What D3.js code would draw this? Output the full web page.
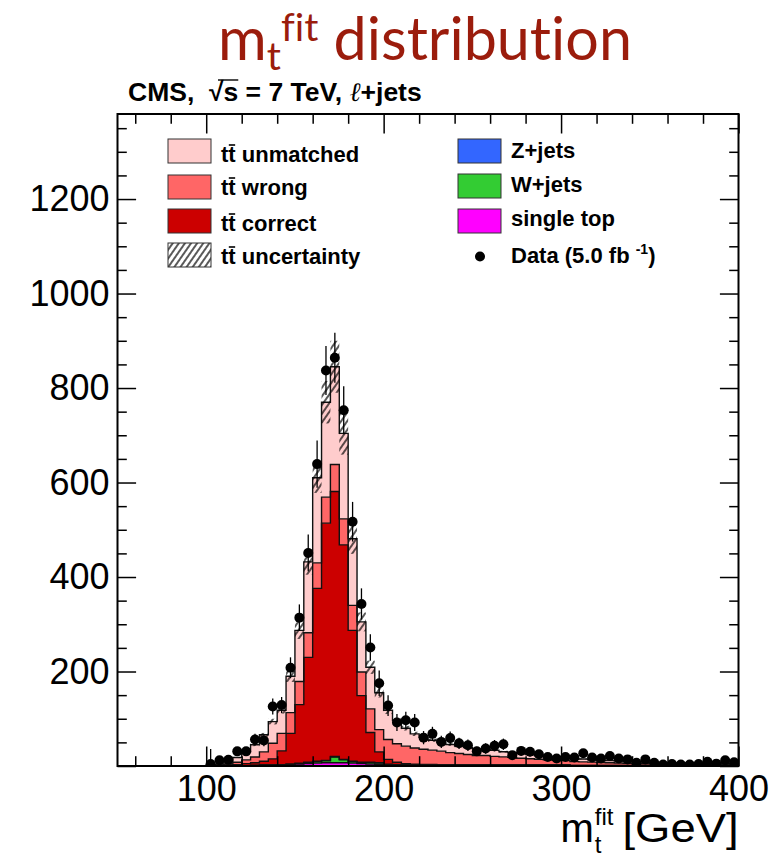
<!DOCTYPE html>
<html>
<head>
<meta charset="utf-8">
<script src="https://cdn.jsdelivr.net/npm/d3@7"></script>
<style>
  body { margin: 0; background: #fff; }
  svg { display: block; }
  text { font-family: "Liberation Sans", Arial, Helvetica, sans-serif; font-variant-ligatures: none; }
</style>
</head>
<body>
<svg id="chart" width="780" height="859"></svg>
<script>
// ---- binning (5 GeV bins from 100 to 400 GeV) ----
const binWidth = 5;
const binLow = d3.range(100, 400, binWidth);

// ---- observed events per bin ----
const dataCounts = [
  4, 12, 13, 31, 31, 56, 54, 126, 129, 208,
  314, 451, 639, 837, 864, 753, 517, 343, 251, 175,
  128, 92, 97, 92, 60, 68, 51, 59, 48, 44,
  31, 37, 43, 46, 23, 32, 30, 25, 19, 16,
  19, 18, 27, 18, 16, 21, 16, 14, 7, 14,
  7, 3, 4, 3, 3, 4, 9, 5, 12, 8
];
const dataErrors = [
  32, 6, 6, 9, 9, 12, 12, 17, 17, 22,
  28, 39, 50, 52, 53, 51, 42, 33, 28, 27,
  22, 18, 18, 18, 14, 15, 13, 14, 12, 12,
  10, 11, 12, 12, 9, 10, 10, 9, 8, 7,
  8, 8, 9, 8, 7, 8, 7, 7, 5, 7,
  5, 3, 4, 3, 3, 4, 6, 4, 6, 5
];

// ---- simulated contributions per bin ----
const singleTop = [
  0, 0, 0, 0, 0, 1, 1, 1, 2, 3,
  4, 5, 6, 7, 7, 7, 6, 5, 4, 3,
  2, 2, 2, 2, 2, 2, 1, 1, 1, 1,
  1, 1, 1, 1, 1, 1, 1, 1, 1, 1,
  1, 0.5, 0.5, 0.5, 0.5, 0.5, 0.5, 0.5, 0.5, 0.5,
  0.5, 0.5, 0.5, 0.5, 0.5, 0.5, 0.5, 0.5, 0.5, 0.5
];
const wJets = [
  0, 0, 0, 0, 0, 0, 1, 1, 1, 1,
  1, 2, 3, 4, 12, 6, 3, 2, 3, 3,
  1, 0.5, 0.5, 0.5, 0.5, 0.5, 0.5, 0.5, 0.5, 0.5,
  0.5, 0.5, 0.5, 0.5, 0.5, 0.5, 0.5, 0.5, 0.5, 0.5,
  0.5, 0.3, 0.3, 0.3, 0.3, 0.3, 0.3, 0.3, 0.3, 0.3,
  0.3, 0.3, 0.3, 0.3, 0.3, 0.3, 0.3, 0.3, 0.3, 0.3
];
const zJets = [
  0, 0, 0, 0, 0, 0, 0, 0, 0, 0,
  1, 1, 1, 1, 1, 1, 1, 1, 1, 1,
  1, 0.5, 0.5, 0.5, 0.5, 0.5, 0.5, 0.5, 0.5, 0.5,
  0.5, 0.5, 0.5, 0.5, 0.5, 0.5, 0.5, 0.5, 0.5, 0.5,
  0.5, 0.2, 0.2, 0.2, 0.2, 0.2, 0.2, 0.2, 0.2, 0.2,
  0.2, 0.2, 0.2, 0.2, 0.2, 0.2, 0.2, 0.2, 0.2, 0.2
];
const ttCorrect = [
  0.5, 1, 2, 3, 5, 6, 8, 13, 29, 65,
  124, 222, 366, 502, 561, 454, 277, 141, 63, 23,
  10, 5, 2, 1, 0.5, 0.5, 0.4, 0.4, 0.3, 0.3,
  0.3, 0.3, 0.3, 0.3, 0.3, 0.3, 0.3, 0.3, 0.3, 0.3,
  0.3, 0.3, 0.3, 0.3, 0.3, 0.3, 0.3, 0.3, 0.3, 0.3,
  0.2, 0.2, 0.2, 0.2, 0.2, 0.2, 0.2, 0.2, 0.2, 0.2
];
const ttWrong = [
  0.5, 1, 2, 5, 8, 12, 20, 33, 37, 44,
  49, 52, 54, 55, 57, 55, 53, 50, 50, 47,
  42, 39, 37, 34, 32, 30, 29, 26, 24, 22,
  20, 20, 18, 17, 16, 14, 13, 12, 11, 10,
  9, 8, 7.5, 7, 6, 5.5, 5, 4.5, 4, 3.5,
  3.2, 3, 2.7, 2.5, 2.2, 2, 2, 1.8, 1.7, 1.5
];
const ttUnmatched = [
  1, 2, 5, 10, 17, 26, 36, 46, 49, 77,
  108, 150, 180, 201, 207, 181, 141, 106, 88, 78,
  62, 49, 38, 30, 25, 21, 18, 17, 16, 15,
  14, 13, 13, 11, 10, 10, 9, 8, 7, 7,
  6, 6, 6, 5, 5, 5, 4, 4, 3.5, 3.5,
  3.5, 3, 3, 2.5, 2.5, 2, 2, 2, 2, 2
];
// absolute tt uncertainty around the stacked total
const ttUncertainty = [
  0.2, 0.3, 0.6, 1.2, 2, 3, 4, 6, 7, 12,
  18, 27, 32, 45, 55, 45, 32, 20, 14, 10,
  8, 6, 5, 4.5, 4, 3.5, 3.2, 3, 2.8, 2.6,
  2.4, 2.2, 2, 1.9, 1.8, 1.6, 1.5, 1.4, 1.3, 1.2,
  1.1, 1, 1, 0.9, 0.8, 0.7, 0.7, 0.6, 0.6, 0.5,
  0.5, 0.5, 0.4, 0.4, 0.4, 0.3, 0.3, 0.3, 0.3, 0.3
];

// ---- axis ticks ----
const xMajorTicks = [100, 200, 300, 400];
const xMinorTicks = [60, 80, 120, 140, 160, 180, 220, 240, 260, 280, 320, 340, 360, 380];
const yMajorTicks = [0, 200, 400, 600, 800, 1000, 1200];
const yMinorTicks = [50, 100, 150, 250, 300, 350, 450, 500, 550, 650, 700, 750,
                     850, 900, 950, 1050, 1100, 1150, 1250, 1300, 1350];

// ---- layout ----
const svg = d3.select("#chart");
const plot = { left: 117.5, right: 738.5, top: 114, bottom: 766 };
const x = d3.scaleLinear().domain([50, 400]).range([plot.left, plot.right]);
const y = d3.scaleLinear().domain([0, 1380]).range([plot.bottom, plot.top]);

const layers = [
  { key: "singleTop",   values: singleTop,   color: "#ff00ff" },
  { key: "wJets",       values: wJets,       color: "#33cc33" },
  { key: "zJets",       values: zJets,       color: "#3366ff" },
  { key: "ttCorrect",   values: ttCorrect,   color: "#cc0000" },
  { key: "ttWrong",     values: ttWrong,     color: "#ff6666" },
  { key: "ttUnmatched", values: ttUnmatched, color: "#ffcccc" }
];

const rows = binLow.map((lo, i) => {
  const r = { lo };
  layers.forEach(l => { r[l.key] = l.values[i]; });
  return r;
});
const stacked = d3.stack().keys(layers.map(l => l.key))(rows);

const defs = svg.append("defs");
defs.append("clipPath").attr("id", "plotClip")
  .append("rect")
  .attr("x", plot.left).attr("y", plot.top)
  .attr("width", plot.right - plot.left).attr("height", plot.bottom - plot.top);

const hatch = defs.append("pattern")
  .attr("id", "hatch")
  .attr("patternUnits", "userSpaceOnUse")
  .attr("width", 5).attr("height", 5)
  .attr("patternTransform", "rotate(35)");
hatch.append("line")
  .attr("x1", 1).attr("y1", 0).attr("x2", 1).attr("y2", 5)
  .attr("stroke", "#000").attr("stroke-width", 1.3);

// step points of a stacked layer
const stepPoints = series => series.flatMap((d, i) => [
  { x: binLow[i], y0: d[0], y1: d[1] },
  { x: binLow[i] + binWidth, y0: d[0], y1: d[1] }
]);

const area = d3.area().x(d => x(d.x)).y0(d => y(d.y0)).y1(d => y(d.y1));
const outline = d3.line().x(d => x(d.x)).y(d => y(d.y1));

const g = svg.append("g").attr("clip-path", "url(#plotClip)");

// filled stacked histograms
stacked.forEach((s, k) => {
  g.append("path")
    .attr("d", area(stepPoints(s)))
    .attr("fill", layers[k].color)
    .attr("stroke", "none");
});
// step outlines on top of every layer
stacked.forEach(s => {
  const pts = stepPoints(s);
  const first = { x: binLow[0], y1: 0 };
  const last = { x: binLow[binLow.length - 1] + binWidth, y1: 0 };
  g.append("path")
    .attr("d", outline([first, ...pts, last]))
    .attr("fill", "none")
    .attr("stroke", "#111")
    .attr("stroke-width", 1.4);
});

// hatched uncertainty band around the total
const stackTop = stacked[stacked.length - 1];
g.selectAll("rect.unc")
  .data(binLow)
  .join("rect")
  .attr("class", "unc")
  .attr("x", d => x(d))
  .attr("width", d => x(d + binWidth) - x(d))
  .attr("y", (d, i) => y(stackTop[i][1] + ttUncertainty[i]))
  .attr("height", (d, i) => y(stackTop[i][1] - ttUncertainty[i]) - y(stackTop[i][1] + ttUncertainty[i]))
  .attr("fill", "url(#hatch)");

// data: error bars and markers
const centers = binLow.map(lo => lo + binWidth / 2);
g.selectAll("line.err")
  .data(dataCounts)
  .join("line")
  .attr("class", "err")
  .attr("x1", (d, i) => x(centers[i])).attr("x2", (d, i) => x(centers[i]))
  .attr("y1", (d, i) => y(d + dataErrors[i]))
  .attr("y2", (d, i) => y(Math.max(0, d - dataErrors[i])))
  .attr("stroke", "#000").attr("stroke-width", 1.3);
g.selectAll("circle.pt")
  .data(dataCounts)
  .join("circle")
  .attr("class", "pt")
  .attr("cx", (d, i) => x(centers[i]))
  .attr("cy", d => y(d))
  .attr("r", 5)
  .attr("fill", "#000");

// ---- axes (ticks drawn inside the frame) ----
const axisFont = 36;
const styleAxis = sel => {
  sel.select(".domain").remove();
  sel.selectAll(".tick line").attr("stroke", "#000").attr("stroke-width", 1.5);
  sel.selectAll(".tick text")
    .attr("font-size", axisFont)
    .attr("font-family", "'Liberation Sans', Arial, sans-serif")
    .attr("fill", "#000");
};

svg.append("g").attr("transform", `translate(${plot.left},0)`)
  .call(d3.axisLeft(y).tickValues(yMajorTicks).tickSize(-18.6).tickPadding(8)
    .tickFormat(d => d === 0 ? "" : d))
  .call(styleAxis);
svg.append("g").attr("transform", `translate(${plot.left},0)`)
  .call(d3.axisLeft(y).tickValues(yMinorTicks).tickSize(-9.3).tickFormat(""))
  .call(styleAxis);
svg.append("g").attr("transform", `translate(${plot.right},0)`)
  .call(d3.axisRight(y).tickValues(yMajorTicks).tickSize(-18.6).tickFormat(""))
  .call(styleAxis);
svg.append("g").attr("transform", `translate(${plot.right},0)`)
  .call(d3.axisRight(y).tickValues(yMinorTicks).tickSize(-9.3).tickFormat(""))
  .call(styleAxis);

svg.append("g").attr("transform", `translate(0,${plot.bottom})`)
  .call(d3.axisBottom(x).tickValues(xMajorTicks).tickSize(-19.5).tickPadding(9))
  .call(styleAxis);
svg.append("g").attr("transform", `translate(0,${plot.bottom})`)
  .call(d3.axisBottom(x).tickValues(xMinorTicks).tickSize(-9.8).tickFormat(""))
  .call(styleAxis);
svg.append("g").attr("transform", `translate(0,${plot.top})`)
  .call(d3.axisTop(x).tickValues(xMajorTicks).tickSize(-19.5).tickFormat(""))
  .call(styleAxis);
svg.append("g").attr("transform", `translate(0,${plot.top})`)
  .call(d3.axisTop(x).tickValues(xMinorTicks).tickSize(-9.8).tickFormat(""))
  .call(styleAxis);

svg.append("rect")
  .attr("x", plot.left).attr("y", plot.top)
  .attr("width", plot.right - plot.left).attr("height", plot.bottom - plot.top)
  .attr("fill", "none").attr("stroke", "#000").attr("stroke-width", 2);

// ---- x axis title: m_t^fit [GeV], right aligned to the frame ----
(function () {
  const base = 842, fs = 40, small = 24, wg = 116, gap = 9;
  // measure the pieces first
  const probe = svg.append("text").attr("font-size", fs).text("m");
  const wm = probe.node().getComputedTextLength();
  probe.attr("font-size", small).text("fit");
  const ws = probe.node().getComputedTextLength();
  probe.remove();
  const x0 = plot.right - (wm + 1 + ws + gap + wg);
  const t = svg.append("text").attr("x", x0).attr("y", base).attr("font-size", fs);
  t.append("tspan").text("m");
  t.append("tspan").attr("x", x0 + wm + 1).attr("dy", -17).attr("font-size", small).text("fit");
  t.append("tspan").attr("x", x0 + wm + 1).attr("dy", 28).attr("font-size", small).text("t");
  t.append("tspan").attr("x", x0 + wm + 1 + ws + gap).attr("dy", -11)
    .attr("textLength", wg).attr("lengthAdjust", "spacingAndGlyphs").text("[GeV]");
})();

// ---- page title ----
(function () {
  const t = svg.append("text")
    .attr("y", 60)
    .attr("fill", "#9b1c0c")
    .style("font-family", "Lato, 'Open Sans', sans-serif")
    .style("font-variant-ligatures", "none")
    .attr("font-size", 54);
  t.append("tspan").text("m");
  t.append("tspan").attr("font-size", 36).attr("dy", 10).text("t");
  t.append("tspan").attr("font-size", 36).attr("dy", -29).text("fit");
  t.append("tspan").attr("dy", 19).text(" distribution");
  const w = t.node().getComputedTextLength();
  const target = 414;
  const s = target / w;
  t.attr("font-size", 54 * s);
  t.selectAll("tspan").each(function (d, i) {
    if (i === 1 || i === 2) d3.select(this).attr("font-size", 36 * s);
  });
  const w2 = t.node().getComputedTextLength();
  t.attr("x", 425 - w2 / 2);
})();

// ---- header label ----
(function () {
  const t = svg.append("text")
    .attr("x", 128).attr("y", 101)
    .attr("font-size", 26.5).attr("font-weight", "bold")
    .style("white-space", "pre");
  t.append("tspan").text("CMS,  \u221As = 7 TeV, ");
  t.append("tspan").style("font-style", "italic").style("font-weight", "normal")
    .style("font-family", "'DejaVu Serif', serif").text("\u2113");
  t.append("tspan").text("+jets");
  const n = t.node();
  const a = n.getStartPositionOfChar(7), b = n.getEndPositionOfChar(7);
  const ra = n.getStartPositionOfChar(6);
  svg.append("line")
    .attr("x1", ra.x + 9).attr("x2", b.x)
    .attr("y1", a.y - 21).attr("y2", a.y - 21)
    .attr("stroke", "#000").attr("stroke-width", 1.4);
})();

// ---- legend ----
const legendFont = 22;
function ttLabel(xp, yp, word) {
  const t = svg.append("text")
    .attr("x", xp).attr("y", yp)
    .attr("font-size", legendFont).attr("font-weight", "bold")
    .style("white-space", "pre")
    .text("tt " + word);
  const n = t.node();
  const a = n.getStartPositionOfChar(1), b = n.getEndPositionOfChar(1);
  svg.append("line")
    .attr("x1", a.x + 0.5).attr("x2", b.x - 0.5)
    .attr("y1", a.y - 17).attr("y2", a.y - 17)
    .attr("stroke", "#000").attr("stroke-width", 1.6);
}
function legendBox(xp, yp, fill) {
  svg.append("rect")
    .attr("x", xp).attr("y", yp).attr("width", 43).attr("height", 24)
    .attr("fill", fill).attr("stroke", "#333").attr("stroke-width", 1);
}

const legendLeft = [
  { word: "unmatched",   fill: "#ffcccc", box: 139, base: 162 },
  { word: "wrong",       fill: "#ff6666", box: 175, base: 195 },
  { word: "correct",     fill: "#cc0000", box: 209, base: 231 },
  { word: "uncertainty", fill: "url(#hatch)", box: 243, base: 264 }
];
legendLeft.forEach(r => {
  if (r.fill.startsWith("url")) {
    svg.append("rect").attr("x", 168).attr("y", r.box).attr("width", 43).attr("height", 24).attr("fill", "#fff");
  }
  legendBox(168, r.box, r.fill);
  ttLabel(221, r.base, r.word);
});

const legendRight = [
  { label: "Z+jets",     fill: "#3366ff", box: 139, base: 158 },
  { label: "W+jets",     fill: "#33cc33", box: 174, base: 192 },
  { label: "single top", fill: "#ff00ff", box: 209, base: 226 }
];
legendRight.forEach(r => {
  legendBox(458, r.box, r.fill);
  svg.append("text").attr("x", 511).attr("y", r.base)
    .attr("font-size", legendFont).attr("font-weight", "bold").text(r.label);
});
svg.append("circle").attr("cx", 480).attr("cy", 256.5).attr("r", 5).attr("fill", "#000");
(function () {
  const t = svg.append("text").attr("x", 511).attr("y", 263)
    .attr("font-size", legendFont).attr("font-weight", "bold")
    .style("white-space", "pre");
  t.append("tspan").text("Data (5.0 fb ");
  t.append("tspan").attr("font-size", 14).attr("dy", -9).text("-1");
  t.append("tspan").attr("dy", 9).text(")");
})();
</script>
</body>
</html>
